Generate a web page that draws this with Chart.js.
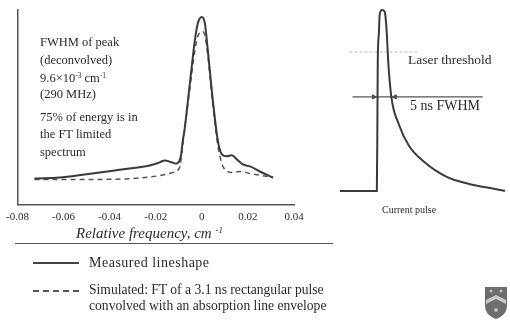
<!DOCTYPE html>
<html>
<head>
<meta charset="utf-8">
<script src="https://cdn.jsdelivr.net/npm/chart.js@4.4.1/dist/chart.umd.min.js"></script>
<style>
  html, body { margin: 0; padding: 0; background: #fff; }
  #wrap { position: relative; width: 510px; height: 321px; overflow: hidden; font-family: "Liberation Serif", "Times New Roman", serif; color: #2a2a2a; }
  canvas { position: absolute; }
  .t { position: absolute; white-space: nowrap; line-height: 16px; }
  .t sup { font-size: 0.6em; vertical-align: 0.6em; line-height: 0; }
  .note { font-size: 12.5px; }
  .leg { font-size: 14px; }
  .sample { position: absolute; width: 46px; height: 0; }
</style>
</head>
<body>
<div id="wrap">
  <canvas id="lineshape" width="310" height="233" style="left:0;top:0"></canvas>
  <canvas id="pulse" width="180" height="200" style="left:330px;top:0"></canvas>

  <div class="t note" style="left:40px;top:34px">FWHM of peak</div>
  <div class="t note" style="left:40px;top:52px">(deconvolved)</div>
  <div class="t note" style="left:40px;top:70px">9.6×10<sup>-3</sup> cm<sup>-1</sup></div>
  <div class="t note" style="left:40px;top:86px">(290 MHz)</div>
  <div class="t note" style="left:40px;top:109px">75% of energy is in</div>
  <div class="t note" style="left:40px;top:126px">the FT limited</div>
  <div class="t note" style="left:40px;top:144px">spectrum</div>

  <div class="t" style="left:76px;top:225px;font-size:15px;font-style:italic">Relative frequency, cm <sup>-1</sup></div>
  <div style="position:absolute;left:15px;top:243px;width:318px;height:0;border-top:1.5px solid #555"></div>

  <div class="sample" style="left:33px;top:262px;border-top:2px solid #444"></div>
  <div class="t leg" style="left:89px;top:255px;letter-spacing:0.5px">Measured lineshape</div>
  <div class="sample" style="left:33px;top:290px;border-top:2px dashed #555"></div>
  <div class="t leg" style="left:89px;top:282px;font-size:13.6px">Simulated: FT of a 3.1 ns rectangular pulse</div>
  <div class="t leg" style="left:89px;top:298px;font-size:13.6px">convolved with an absorption line envelope</div>

  <div class="t" style="left:408px;top:52px;font-size:13.5px">Laser threshold</div>
  <div class="t" style="left:410px;top:98px;font-size:14px">5 ns FWHM</div>
  <div class="t" style="left:382px;top:202px;font-size:10px">Current pulse</div>

  <svg style="position:absolute;left:484px;top:286px" width="24" height="34" viewBox="0 0 24 34">
    <path d="M1 1 H23 V20 Q23 29 12 33 Q1 29 1 20 Z" fill="#6d6d6d"/>
    <path d="M2 14 L12 9 L22 14 L22 18 L12 13 L2 18 Z" fill="#c8c8c8"/>
    <circle cx="7" cy="5" r="1.6" fill="#bbb"/><circle cx="17" cy="5" r="1.6" fill="#bbb"/>
    <circle cx="12" cy="24" r="2" fill="#bbb"/>
  </svg>
</div>

<script>
// measured lineshape (relative frequency cm^-1, arbitrary intensity)
const freq = [-0.0726, -0.0617, -0.0517, -0.0357, -0.0226, -0.0183, -0.0161, -0.0130, -0.0113, -0.0091,
              -0.0083, -0.0074, -0.0052, -0.0030, -0.0017, 0, 0.0013, 0.0026, 0.0048, 0.0070,
              0.0087, 0.0109, 0.0130, 0.0152, 0.0178, 0.0209, 0.0252, 0.0309];
const measured = [13.5, 14.0, 15.4, 18.0, 20.2, 21.8, 22.8, 21.8, 21.2, 24.9,
                  32.6, 39.4, 62.2, 84.5, 93.3, 96.4, 93.3, 79.3, 53.4, 32.6,
                  25.9, 24.9, 25.4, 23.3, 20.7, 19.7, 17.1, 14.0];

// simulated: FT of rectangular pulse convolved with absorption envelope
const simFreq = [-0.0726, -0.0517, -0.0300, -0.0183, -0.0126, -0.0096, -0.0083, -0.0070, -0.0052, -0.0030,
                 -0.0017, 0, 0.0013, 0.0026, 0.0048, 0.0070, 0.0087, 0.0100, 0.0130, 0.0165,
                 0.0209, 0.0261, 0.0309];
const simulated = [13.0, 13.0, 13.5, 15.0, 16.6, 19.2, 30.1, 43.0, 59.6, 79.3,
                   86.5, 89.1, 87.0, 76.7, 50.8, 30.1, 21.2, 18.1, 16.6, 17.1,
                   16.1, 15.0, 14.0];

const freqTicks = [-0.08, -0.06, -0.04, -0.02, 0, 0.02, 0.04];

// current pulse (time ns, normalised current)
const time = [0, 10.05, 10.2, 10.3, 10.6, 10.8, 11.4, 12.2, 12.7, 13.2, 14.0, 16.0, 18.8, 23.0, 29.1, 35.2, 42.3, 45];
const current = [0, 0, 0.39, 0.72, 0.87, 0.97, 1.0, 0.99, 0.89, 0.70, 0.52, 0.37, 0.25, 0.16, 0.078, 0.039, 0.011, 0.0];

const threshold = { from: 2.6, to: 21.2, level: 0.768 };
const fwhm = { from: 3.4, to: 38.9, level: 0.52, left: 9.2, right: 15.0 };

const toXY = (xs, ys) => xs.map((x, i) => ({ x: x, y: ys[i] }));

new Chart(document.getElementById('lineshape'), {
    type: 'line',
    data: {
        datasets: [
            {
                data: toXY(freq, measured),
                borderColor: '#3a3a3a',
                borderWidth: 2,
                pointRadius: 0,
                cubicInterpolationMode: 'monotone',
                clip: false
            },
            {
                data: toXY(simFreq, simulated),
                borderColor: '#555',
                borderWidth: 1.5,
                borderDash: [5, 4],
                pointRadius: 0,
                cubicInterpolationMode: 'monotone',
                clip: false
            }
        ]
    },
    options: {
        responsive: false,
        animation: false,
        layout: { padding: { left: 17, right: 16, top: 10, bottom: 3 } },
        plugins: { legend: { display: false }, tooltip: { enabled: false } },
        scales: {
            x: {
                type: 'linear',
                min: freqTicks[0],
                max: freqTicks[freqTicks.length - 1],
                afterBuildTicks: axis => { axis.ticks = freqTicks.map(v => ({ value: v })); },
                grid: { display: false, drawTicks: false },
                border: { display: true, color: '#555', width: 1.5 },
                ticks: {
                    padding: 6,
                    color: '#2a2a2a',
                    font: { family: 'Liberation Serif', size: 11 },
                    callback: v => String(Number(v.toFixed(2)))
                }
            },
            y: {
                min: 0,
                max: 100,
                grid: { display: false, drawTicks: false },
                border: { display: true, color: '#555', width: 1.5 },
                ticks: { display: false }
            }
        }
    }
});

new Chart(document.getElementById('pulse'), {
    type: 'line',
    data: {
        datasets: [
            {
                data: toXY(time, current),
                borderColor: '#3a3a3a',
                borderWidth: 2,
                pointRadius: 0,
                cubicInterpolationMode: 'monotone',
                clip: false
            },
            {
                data: [{ x: threshold.from, y: threshold.level }, { x: threshold.to, y: threshold.level }],
                borderColor: '#d2d2d2',
                borderWidth: 1.5,
                borderDash: [3, 2],
                pointRadius: 0,
                clip: false
            },
            {
                data: [{ x: fwhm.from, y: fwhm.level }, { x: fwhm.to, y: fwhm.level }],
                borderColor: '#555',
                borderWidth: 1.2,
                pointRadius: 0,
                clip: false
            },
            {
                type: 'scatter',
                data: [{ x: fwhm.left, y: fwhm.level }, { x: fwhm.right, y: fwhm.level }],
                pointStyle: 'triangle',
                rotation: [90, -90],
                pointRadius: 2.5,
                backgroundColor: '#444',
                borderColor: '#444',
                borderWidth: 1,
                clip: false
            }
        ]
    },
    options: {
        responsive: false,
        animation: false,
        layout: { padding: { left: 10, right: 0, top: 10, bottom: 9 } },
        plugins: { legend: { display: false }, tooltip: { enabled: false } },
        scales: {
            x: { type: 'linear', min: 0, max: 45, display: false },
            y: { min: 0, max: 1, display: false }
        }
    }
});
</script>
</body>
</html>
